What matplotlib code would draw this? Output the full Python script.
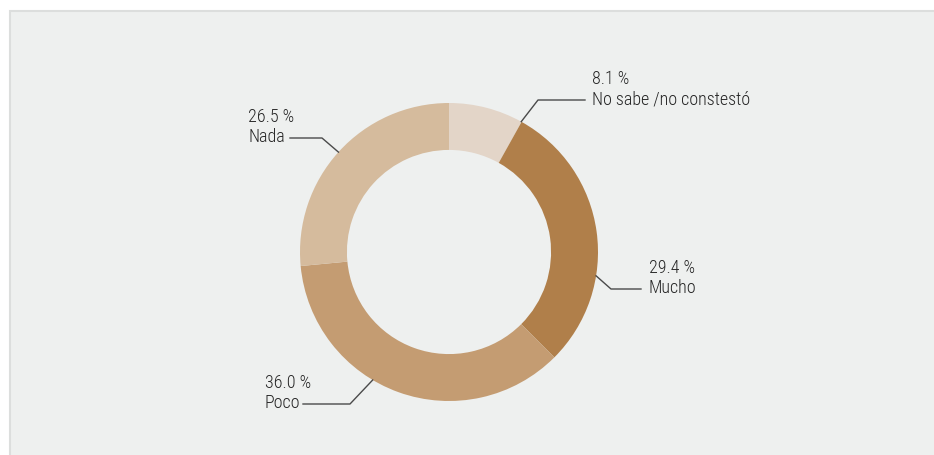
import numpy as np
import matplotlib
matplotlib.use("Agg")
import matplotlib.pyplot as plt
from matplotlib.patches import Rectangle

# Data (clockwise from the top)
labels = ["No sabe /no constestó", "Mucho", "Poco", "Nada"]
values = [8.1, 29.4, 36.0, 26.5]
colors = ["#e3d5c8", "#b07f4a", "#c49c72", "#d5bb9d"]

plt.rcParams['font.family'] = ['Roboto Condensed', 'DejaVu Sans']

W, H = 934, 455
fig = plt.figure(figsize=(W / 100, H / 100), dpi=100)
fig.patch.set_facecolor("white")
ax = fig.add_axes([0, 0, 1, 1])

# panel background
ax.add_patch(Rectangle((10, -20), W + 20, H - 11 + 20, facecolor="#eef0ef",
                       edgecolor="#dcdedd", lw=1.5, zorder=0))

cx, cy, r = 449, H - 252, 149
wedges, _ = ax.pie(values, colors=colors, startangle=90, counterclock=False,
                   center=(cx, cy), radius=r, frame=True,
                   wedgeprops=dict(width=r * 0.315, edgecolor="none"))
ax.set_xlim(0, W)
ax.set_ylim(0, H)
ax.set_aspect("equal")
ax.axis("off")

# label layout: anchor angle on ring, elbow, line end, text left/centre
layout = [
    (61.0, (538, 100), (585, 100), (592, 89)),
    (-9.2, (611, 289), (641, 289), (649, 278)),
    (-120.8, (350, 404), (303, 404), (265, 393)),
    (137.9, (322, 138), (290, 138), (248, 127)),
]

for lab, val, (ang, elbow, end, tpos) in zip(labels, values, layout):
    a = np.deg2rad(ang)
    x0, y0 = cx + r * np.cos(a), cy + r * np.sin(a)
    ax.plot([x0, elbow[0], end[0]], [y0, H - elbow[1], H - end[1]],
            color="#4a4a4a", lw=1.0, zorder=3)
    ax.text(tpos[0], H - tpos[1], f"{val:.1f} %\n{lab}", ha="left", va="center",
            fontsize=13, weight="light", color="#262626", linespacing=1.15)

fig.savefig("out.png", dpi=100, facecolor="white")
